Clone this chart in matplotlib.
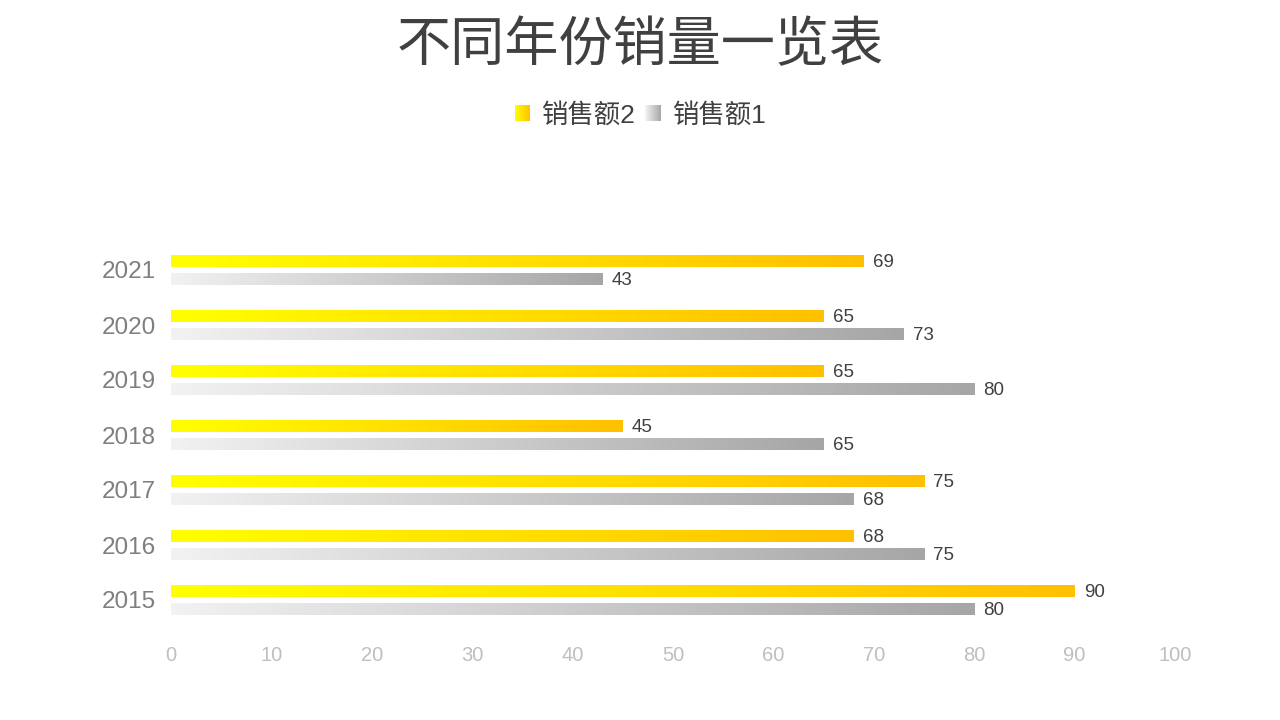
import matplotlib
matplotlib.use('Agg')
import matplotlib.pyplot as plt
import numpy as np
from matplotlib.colors import LinearSegmentedColormap
from matplotlib.legend_handler import HandlerBase
from matplotlib.patches import Rectangle, Patch

years = ['2015', '2016', '2017', '2018', '2019', '2020', '2021']
sales2 = [90, 68, 75, 45, 65, 65, 69]
sales1 = [80, 75, 68, 65, 80, 73, 43]
xticks = [0, 10, 20, 30, 40, 50, 60, 70, 80, 90, 100]

plt.rcParams['font.family'] = ['Liberation Sans', 'Noto Sans CJK SC', 'DejaVu Sans']

fig = plt.figure(figsize=(12.8, 7.2), dpi=100)
ax = fig.add_axes([171/1280, 1-627.5/720, 1004/1280, 385/720])

cmap_y = LinearSegmentedColormap.from_list('yl', ['#FFFF00', '#FFC000'])
cmap_g = LinearSegmentedColormap.from_list('gr', ['#F2F2F2', '#A6A6A6'])

y = np.arange(len(years))
h = 0.218
off = 0.164
bars2 = ax.barh(y + off, sales2, height=h, color='none', edgecolor='none')
bars1 = ax.barh(y - off, sales1, height=h, color='none', edgecolor='none')
grad = np.linspace(0, 1, 256).reshape(1, -1)
for bars, cmap, vals in ((bars2, cmap_y, sales2), (bars1, cmap_g, sales1)):
    for b, v in zip(bars, vals):
        x0, y0 = b.get_x(), b.get_y()
        w, hh = b.get_width(), b.get_height()
        ax.imshow(grad, cmap=cmap, extent=[x0, x0 + w, y0, y0 + hh],
                  aspect='auto', interpolation='bilinear', zorder=2)
        ax.annotate(str(v), xy=(x0 + w, y0 + hh / 2), xytext=(6.5, -1),
                    textcoords='offset points', va='center', ha='left',
                    fontsize=13.5, color='#404040')

ax.set_xlim(0, 100)
ax.set_ylim(-0.5, len(years) - 0.5)
ax.set_xticks(xticks)
ax.set_xticklabels([str(t) for t in xticks])
ax.set_yticks(y)
ax.set_yticklabels(years)
ax.tick_params(axis='x', length=0, pad=13, labelsize=14.5, labelcolor='#BFBFBF')
ax.tick_params(axis='y', length=0, pad=11, labelsize=17.5, labelcolor='#7F7F7F')
for s in ax.spines.values():
    s.set_visible(False)
ax.set_facecolor('none')

fig.text(0.5, 1 - 47/720, '不同年份销量一览表', ha='center', va='center',
         fontsize=39, color='#404040')


class GradHandler(HandlerBase):
    def __init__(self, c0, c1):
        super().__init__()
        self.cmap = LinearSegmentedColormap.from_list('h', [c0, c1])

    def create_artists(self, legend, orig_handle, xdescent, ydescent,
                       width, height, fontsize, trans):
        n = 24
        size = min(width, height)
        x0 = -xdescent + (width - size) / 2
        y0 = -ydescent + (height - size) / 2
        arts = []
        for i in range(n):
            r = Rectangle((x0 + size * i / n, y0), size / n * 1.05, size,
                          facecolor=self.cmap(i / (n - 1)), edgecolor='none',
                          transform=trans)
            arts.append(r)
        return arts


h2 = Patch(label='销售额2')
h1 = Patch(label='销售额1')
fig.legend(handles=[h2, h1], labels=['销售额2', '销售额1'],
           handler_map={h2: GradHandler('#FFFF00', '#FFC000'),
                        h1: GradHandler('#F2F2F2', '#A6A6A6')},
           loc='center', bbox_to_anchor=(0.5, 1 - 115/720), ncol=2,
           frameon=False, fontsize=19, labelcolor='#404040',
           handlelength=0.6, handleheight=0.6, handletextpad=0.4,
           columnspacing=0.4)

fig.savefig('out.png', dpi=100)
